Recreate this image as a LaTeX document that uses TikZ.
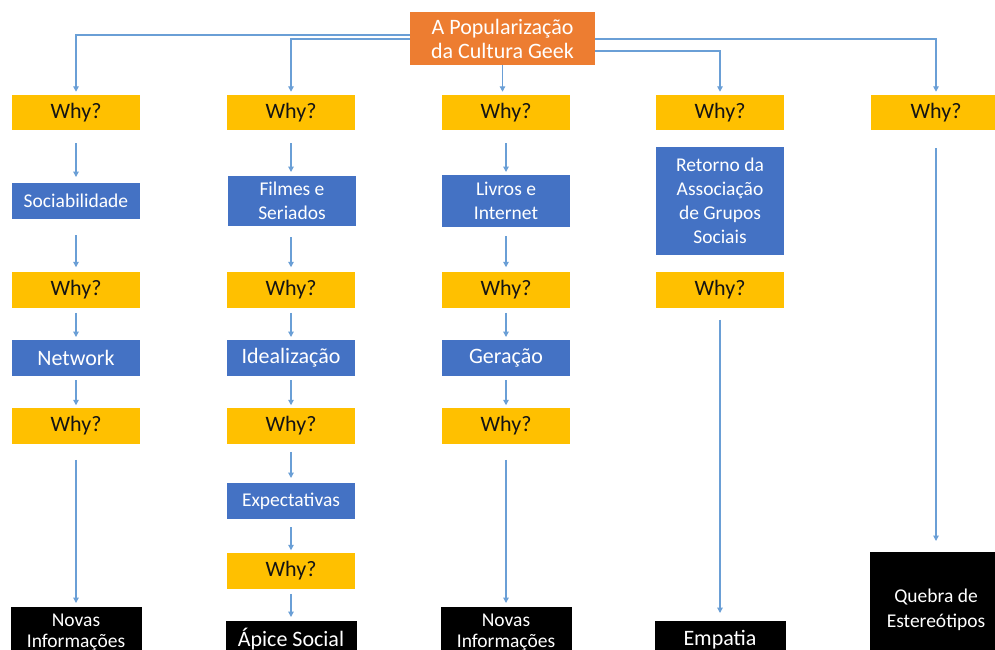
\documentclass[tikz,border=0pt]{standalone}
\usepackage{fontspec}
\setmainfont{Carlito}
\usetikzlibrary{arrows.meta}
\definecolor{geekorange}{HTML}{ED7D31}
\definecolor{whygold}{HTML}{FFC000}
\definecolor{boxblue}{HTML}{4472C4}
\definecolor{linkblue}{HTML}{6A9FD6}
\definecolor{whytext}{HTML}{141414}
\tikzset{
  base/.style={inner sep=0pt, outer sep=0pt, align=center},
  whybox/.style={base, fill=whygold, text=whytext, minimum width=128pt, minimum height=35.5pt, font=\fontsize{22}{25}\selectfont},
  bluebox/.style={base, fill=boxblue, text=white, minimum width=128pt},
  smalltext/.style={font=\fontsize{19.5}{24.5}\selectfont},
  bigtext/.style={font=\fontsize{22}{25}\selectfont},
  blackbox/.style={base, fill=black, text=white, minimum width=131pt},
  topbox/.style={base, fill=geekorange, text=white, minimum width=185pt, minimum height=53pt, font=\fontsize{22}{24}\selectfont},
  conn/.style={draw=linkblue, line width=1.2pt, -{Triangle[width=5.5pt,length=5.5pt]}}
}
\begin{document}
\begin{tikzpicture}[x=1pt,y=-1pt]
\path[use as bounding box] (0,0) rectangle (995,649);
\clip (0,0) rectangle (995,649);
\fill[white] (0,0) rectangle (995,649);

% top
\node[topbox] (top) at (502.5,38.5) {A Popularização\\da Cultura Geek};

% column 1
\node[whybox] (w1a) at (76,112.5) {Why?};
\node[bluebox, smalltext, minimum height=36pt] (soc) at (76,201) {Sociabilidade};
\node[whybox] (w1b) at (76,290) {Why?};
\node[bluebox, bigtext, minimum height=36pt] (net) at (76,358) {Network};
\node[whybox] (w1c) at (76,426) {Why?};
\node[blackbox, font=\fontsize{19.5}{21.5}\selectfont, minimum height=51pt] (nov1) at (76,632.5) {Novas\\Informações};

% column 2
\node[whybox] (w2a) at (291,112.5) {Why?};
\node[bluebox, smalltext, minimum height=50pt] (film) at (292,201) {Filmes e\\Seriados};
\node[whybox] (w2b) at (291,290) {Why?};
\node[bluebox, bigtext, minimum height=36pt] (ideal) at (291,358) {Idealização};
\node[whybox] (w2c) at (291,426) {Why?};
\node[bluebox, smalltext, minimum height=36pt] (expec) at (291,501) {Expectativas};
\node[whybox] (w2d) at (291,571) {Why?};
\node[blackbox, bigtext, minimum height=36pt] (apice) at (291,639) {Ápice Social};

% column 3
\node[whybox] (w3a) at (506,112.5) {Why?};
\node[bluebox, smalltext, minimum height=52pt] (livros) at (506,201) {Livros e\\Internet};
\node[whybox] (w3b) at (506,290) {Why?};
\node[bluebox, bigtext, minimum height=36pt] (ger) at (506,358) {Geração};
\node[whybox] (w3c) at (506,426) {Why?};
\node[blackbox, font=\fontsize{19.5}{21.5}\selectfont, minimum height=51pt] (nov3) at (506,632.5) {Novas\\Informações};

% column 4
\node[whybox] (w4a) at (720,112.5) {Why?};
\node[bluebox, font=\fontsize{19.5}{24}\selectfont, minimum height=108pt] (ret) at (720,201) {Retorno da\\Associação\\de Grupos\\Sociais};
\node[whybox] (w4b) at (720,290) {Why?};
\node[blackbox, bigtext, minimum height=38pt] (emp) at (720,640) {Empatia};

% column 5
\node[whybox, minimum width=130pt] (w5a) at (936,112.5) {Why?};
\node[blackbox, font=\fontsize{19.5}{25}\selectfont, minimum width=132pt, minimum height=115pt] (queb) at (936,609.5) {Quebra de\\Estereótipos};

% connectors from top
\draw[conn, shorten >=3pt] ([yshift=3.5pt]top.west) -| (w1a);
\draw[conn, shorten >=3pt] ([yshift=-0.5pt]top.west) -| (w2a);
\draw[conn, shorten >=3pt] (top.south) -- (top.south |- w3a.north);
\draw[conn, shorten >=3pt] ([yshift=-12.5pt]top.east) -| (w4a);
\draw[conn, shorten >=3pt] ([yshift=-0.5pt]top.east) -| (w5a);

% column 1 connectors
\draw[conn, shorten <=13pt, shorten >=6pt] (w1a) -- (soc);
\draw[conn, shorten <=16pt, shorten >=5pt] (soc) -- (w1b);
\draw[conn, shorten <=5pt, shorten >=3pt] (w1b) -- (net);
\draw[conn, shorten <=4pt, shorten >=3pt] (net) -- (w1c);
\draw[conn, shorten <=16pt, shorten >=4pt] (w1c) -- (nov1);

% column 2 connectors
\draw[conn, shorten <=13pt, shorten >=4pt] (w2a) -- (w2a |- film.north);
\draw[conn, shorten <=11pt, shorten >=5pt] (w2a |- film.south) -- (w2b);
\draw[conn, shorten <=5pt, shorten >=3pt] (w2b) -- (ideal);
\draw[conn, shorten <=4pt, shorten >=3pt] (ideal) -- (w2c);
\draw[conn, shorten <=8pt, shorten >=5pt] (w2c) -- (expec);
\draw[conn, shorten <=8pt, shorten >=3pt] (expec) -- (w2d);
\draw[conn, shorten <=5pt, shorten >=4pt] (w2d) -- (apice);

% column 3 connectors
\draw[conn, shorten <=13pt, shorten >=3pt] (w3a) -- (livros);
\draw[conn, shorten <=9pt, shorten >=5pt] (livros) -- (w3b);
\draw[conn, shorten <=5pt, shorten >=3pt] (w3b) -- (ger);
\draw[conn, shorten <=4pt, shorten >=3pt] (ger) -- (w3c);
\draw[conn, shorten <=16pt, shorten >=4pt] (w3c) -- (nov3);

% column 4 connector
\draw[conn, shorten <=12pt, shorten >=8pt] (w4b) -- (emp);

% column 5 connector
\draw[conn, shorten <=18pt, shorten >=11pt] (w5a) -- (queb);
\end{tikzpicture}
\end{document}
